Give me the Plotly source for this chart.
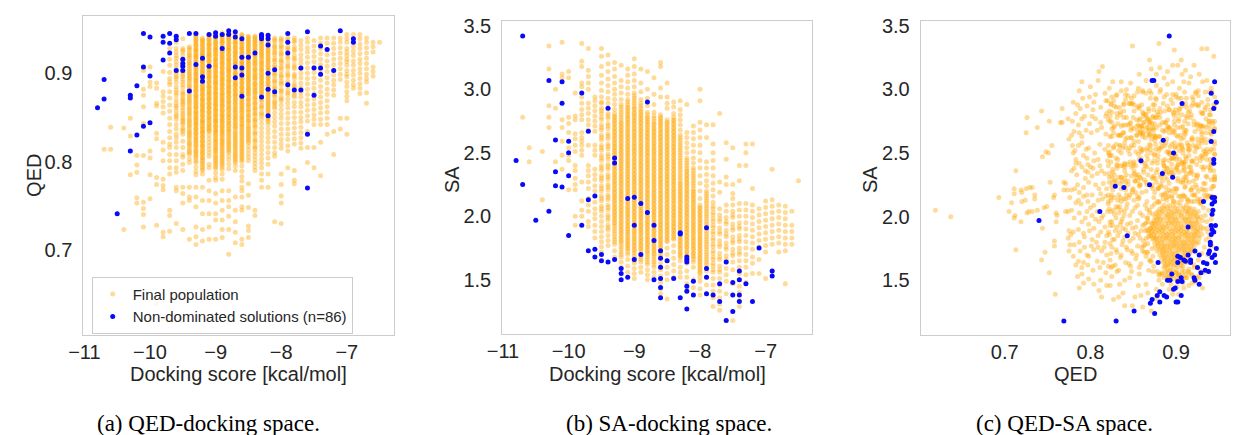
import plotly.graph_objects as go

W, H = 1233, 435

# ---------------- Panel (a): QED vs docking (final population) ----------------
# docking score columns (kcal/mol) and QED values in each column (x 1/1000)
A_DOCK = [-10.7, -10.6, -10.4, -10.3, -10.2, -10.1, -10.0, -9.9, -9.8, -9.7, -9.6, -9.5, -9.4,
          -9.3, -9.2, -9.1, -9.0, -8.9, -8.8, -8.7, -8.6, -8.5, -8.4, -8.3, -8.2, -8.1, -8.0,
          -7.9, -7.8, -7.7, -7.6, -7.5, -7.4, -7.3, -7.2, -7.1, -7.0, -6.9, -6.8, -6.7, -6.6, -6.5]
A_QED = [
    [814],
    [839, 814],
    [838, 723],
    [873, 849, 829, 785],
    [807, 796, 788, 759, 753],
    [907, 903, 882, 875, 862, 843, 807, 754, 747, 740, 726],
    [907, 890, 885, 812, 804, 785, 758],
    [889, 883, 866, 863, 832, 826, 782, 774, 728, 639],
    [902, 879, 874, 868, 862, 855, 822, 813, 801, 780, 773, 768, 720, 715, 621],
    [928, 916, 909, 901, 894, 890, 887, 879, 872, 864, 857, 849, 842, 834, 827, 820, 816, 808, 801, 793, 786, 745, 739, 721],
    [942, 939, 935, 928, 920, 913, 909, 905, 899, 894, 890, 885, 881, 875, 870, 866, 861, 857, 853, 848, 842, 837, 831, 827, 822, 816, 808, 801, 793, 788, 771, 767, 730, 924, 917, 902, 896, 878, 863, 851],
    [939, 928, 924, 916, 913, 911, 905, 901, 898, 893, 890, 887, 879, 875, 872, 868, 864, 861, 853, 850, 846, 842, 838, 834, 831, 823, 816, 808, 805, 797, 790, 771, 764, 753, 723,
     926, 920, 915, 908, 903, 896, 884, 877, 870, 866, 858, 855, 848, 844, 836],
    [930, 926, 921, 917, 912, 908, 903, 899, 895, 891, 886, 882, 878, 873, 869, 865, 860, 856, 852, 847, 843, 839, 834, 830, 826, 821, 817, 812, 808, 803, 799, 771, 760, 756, 712,
     928, 923, 919, 914, 910, 905, 901, 897, 893, 888, 884, 880, 875, 871, 867, 862, 858, 854, 849, 845, 841, 836, 832, 828, 823, 819, 814, 810],
    [943, 940, 938, 935, 933, 931, 928, 926, 924, 921, 919, 917, 914, 912, 909, 907, 905, 902, 900, 898, 895, 893, 891, 888, 886, 883, 881, 879, 876, 874, 872, 869, 867, 864, 862, 860, 857, 855, 853, 850, 848, 845, 843, 841, 838, 836, 833, 831, 828, 825, 822, 819, 816, 812, 808, 804, 799, 794, 789, 785, 771, 760, 749, 726, 715, 706,
     942, 937, 932, 927, 922, 918, 913, 908, 904, 899, 894, 890, 885, 880, 875, 871, 866, 861, 856, 851, 847, 842, 837, 832, 827, 823, 818, 813, 810, 806, 801],
    [940, 937, 935, 932, 930, 927, 925, 922, 920, 918, 915, 913, 911, 908, 906, 903, 901, 899, 896, 894, 892, 889, 887, 884, 882, 880, 877, 875, 872, 870, 868, 865, 863, 860, 858, 856, 853, 851, 848, 846, 844, 841, 839, 836, 834, 832, 829, 827, 824, 822, 819, 817, 814, 811, 808, 805, 802, 798, 794, 790, 786, 771, 756, 741, 723, 710,
     938, 933, 928, 923, 919, 914, 909, 904, 900, 895, 890, 885, 881, 876, 871, 866, 862, 857, 852, 847, 843, 838, 833, 828, 823, 818, 813, 809, 804, 800, 796, 792],
    [944, 942, 939, 937, 934, 932, 930, 927, 925, 922, 920, 918, 915, 913, 910, 908, 906, 903, 901, 898, 896, 894, 891, 889, 886, 884, 882, 879, 877, 874, 872, 870, 867, 865, 862, 860, 857, 855, 852, 849, 846, 843, 840, 837, 834, 830, 826, 822, 818, 814, 810, 806, 797, 793, 779, 767, 756, 741, 726, 712,
     943, 938, 933, 928, 923, 919, 914, 909, 904, 900, 895, 890, 885, 880, 876, 871, 866, 861, 856, 851, 847, 842, 838, 835],
    [946, 944, 941, 939, 936, 934, 932, 929, 927, 925, 922, 920, 917, 915, 913, 910, 908, 906, 903, 901, 898, 896, 894, 891, 889, 887, 884, 882, 879, 877, 875, 872, 870, 867, 865, 863, 860, 858, 856, 853, 851, 848, 846, 844, 841, 839, 836, 834, 832, 829, 826, 823, 820, 817, 814, 811, 808, 804, 800, 796, 792, 787, 782, 779, 764, 753, 741, 734, 712,
     945, 940, 935, 930, 926, 921, 916, 911, 907, 902, 897, 892, 888, 883, 878, 873, 869, 864, 859, 854, 849, 845, 840, 835, 830, 825, 821, 816, 812, 806, 802, 798, 794],
    [946, 943, 941, 938, 936, 934, 931, 929, 926, 924, 922, 919, 917, 914, 912, 910, 907, 905, 902, 900, 898, 895, 893, 890, 888, 886, 883, 881, 878, 876, 874, 871, 869, 866, 864, 862, 859, 857, 854, 852, 850, 847, 845, 842, 840, 837, 835, 832, 829, 826, 823, 820, 816, 812, 808, 804, 800, 796, 791, 786, 780, 767, 756, 745, 734, 723, 714,
     944, 940, 935, 930, 925, 920, 916, 911, 906, 901, 896, 892, 887, 882, 877, 872, 868, 863, 858, 853, 848, 844, 839, 834, 830, 825, 821, 818, 814, 810, 806, 802, 798, 794],
    [946, 944, 941, 939, 937, 934, 932, 929, 927, 925, 922, 920, 917, 915, 913, 910, 908, 905, 903, 901, 898, 896, 893, 891, 889, 886, 884, 881, 879, 877, 874, 872, 869, 867, 864, 861, 858, 855, 852, 849, 846, 843, 840, 837, 834, 830, 826, 822, 818, 814, 810, 806, 802, 797, 792, 767, 756, 749, 738, 723, 695,
     945, 940, 935, 930, 926, 921, 916, 911, 906, 902, 897, 892, 887, 883, 878, 873, 868, 863, 859, 854, 850, 845, 841, 836, 832, 828, 824, 820, 816, 812],
    [945, 942, 940, 937, 935, 933, 930, 928, 925, 923, 921, 918, 916, 913, 911, 909, 906, 904, 901, 899, 897, 894, 892, 889, 887, 885, 882, 880, 877, 875, 873, 870, 868, 865, 862, 859, 856, 853, 850, 847, 844, 841, 838, 835, 831, 827, 823, 819, 815, 811, 807, 803, 799, 795, 790, 760, 745, 732, 720, 708,
     944, 939, 934, 929, 924, 919, 914, 910, 905, 900, 895, 890, 886, 881, 876, 871, 866, 861, 857, 852, 848, 843, 839, 833, 829, 825, 821, 817, 813, 809, 805, 801],
    [944, 941, 939, 936, 934, 931, 929, 927, 924, 922, 919, 917, 914, 912, 910, 907, 905, 902, 900, 897, 895, 893, 890, 888, 885, 883, 880, 878, 876, 873, 871, 868, 866, 863, 861, 858, 855, 852, 849, 846, 843, 840, 836, 832, 828, 824, 820, 816, 812, 808, 804, 800, 795, 789, 783, 778, 771, 767, 760, 749, 745, 712, 706,
     943, 938, 933, 928, 923, 918, 913, 909, 904, 899, 894, 889, 884, 879, 875, 870, 865, 860, 856, 851, 847, 842, 838, 834, 830, 826, 822, 818, 814, 810, 806, 802],
    [942, 939, 937, 934, 932, 929, 927, 924, 922, 919, 917, 914, 912, 909, 907, 904, 902, 899, 897, 894, 892, 889, 887, 884, 882, 879, 877, 874, 871, 868, 865, 862, 859, 856, 853, 850, 847, 844, 841, 837, 833, 829, 825, 821, 817, 813, 809, 805, 801, 775, 762, 748, 727, 722, 714,
     941, 936, 931, 926, 921, 916, 911, 906, 901, 896, 891, 886, 881, 876, 870, 864, 858, 852, 846, 839, 835, 831, 827, 823],
    [942, 939, 937, 934, 932, 929, 927, 924, 921, 919, 916, 913, 911, 908, 905, 903, 900, 897, 895, 892, 889, 887, 884, 881, 879, 876, 873, 870, 867, 864, 861, 858, 855, 852, 848, 845, 842, 838, 834, 830, 826, 822, 818, 814, 810, 806, 802, 798, 794, 790, 745, 739,
     941, 936, 931, 926, 920, 915, 910, 904, 899, 894, 888, 883, 878, 872, 866, 860, 854, 847, 840, 832, 824, 816],
    [942, 939, 936, 934, 931, 928, 925, 922, 920, 917, 914, 911, 908, 905, 903, 900, 897, 894, 891, 888, 885, 882, 879, 876, 872, 868, 864, 860, 856, 852, 848, 843, 838, 833, 828, 823, 818, 813, 808, 803, 798, 793, 786, 779, 771,
     941, 937, 932, 927, 923, 918, 913, 909, 904, 899, 895, 890, 886, 881, 877, 870, 862, 854],
    [942, 939, 936, 933, 930, 927, 924, 921, 918, 915, 912, 909, 906, 903, 900, 897, 894, 891, 888, 885, 882, 879, 875, 871, 867, 863, 859, 855, 851, 847, 842, 837, 832, 827, 822, 816, 810, 804, 797, 786, 771,
     940, 935, 931, 926, 922, 917, 913, 908, 904, 899, 895, 890, 886, 881, 877, 873, 869, 865, 861, 857, 853, 849, 845],
    [940, 936, 932, 928, 925, 921, 917, 913, 909, 905, 901, 897, 893, 889, 885, 881, 877, 873, 869, 865, 860, 855, 850, 845, 840, 834, 828, 822, 816, 810, 806, 732,
     938, 930, 923, 915, 907, 899, 891, 883, 875, 867, 862],
    [940, 936, 932, 928, 924, 920, 916, 912, 908, 903, 899, 895, 891, 887, 882, 878, 873, 869, 864, 859, 854, 849, 843, 837, 831, 825, 820, 815, 786, 774, 761, 753, 730,
     938, 930, 922, 914, 906, 897, 889, 880, 871],
    [940, 935, 930, 926, 921, 916, 911, 906, 901, 896, 891, 886, 881, 876, 871, 866, 861, 855, 849, 843, 837, 831, 825, 818, 812, 793,
     938, 928, 918, 908, 898, 888, 878],
    [940, 935, 930, 925, 920, 915, 910, 905, 899, 894, 889, 884, 878, 873, 867, 862, 856, 850, 844, 838, 832, 826, 820, 790, 779, 775,
     937, 927, 917, 907, 897, 886, 875],
    [937, 932, 927, 921, 916, 911, 905, 900, 895, 889, 884, 878, 873, 867, 862, 856, 850, 845, 839, 833, 827, 821, 815],
    [940, 935, 929, 924, 918, 912, 906, 900, 894, 888, 882, 876, 870, 864, 858, 852, 846, 834, 816, 799],
    [937, 931, 925, 919, 913, 907, 901, 895, 889, 883, 877, 871, 865, 859, 853, 848, 842, 816, 793],
    [940, 934, 928, 922, 916, 910, 904, 898, 892, 885, 879, 873, 867, 861, 855, 848, 842, 822, 784],
    [940, 934, 927, 921, 914, 908, 902, 895, 889, 882, 876, 869, 862, 856, 849, 842, 831],
    [940, 934, 928, 922, 916, 910, 904, 898, 892, 887, 881, 875, 834, 808],
    [940, 935, 929, 923, 917, 911, 905, 899, 893, 849, 837],
    [944, 939, 935, 928, 924, 920, 916, 913, 909, 903, 899, 896, 890, 885, 879, 874, 869, 849, 831],
    [944, 939, 935, 930, 925, 920, 914, 909, 903, 898, 892, 887, 883],
    [944, 939, 933, 928, 922, 916, 911, 905, 900, 894, 888, 883, 877],
    [940, 935, 929, 923, 917, 911, 905, 899, 894, 890, 878, 866],
    [935, 930, 924, 907, 902, 897],
    [935],
]
# non-dominated solutions (docking, QED x 1/1000)
A_ND = [(-10.1, 945), (-10.0, 941), (-9.8, 942), (-9.7, 945), (-9.7, 934), (-9.6, 942), (-9.6, 938),
        (-9.4, 945), (-9.3, 945), (-9.1, 944), (-9.0, 946), (-9.0, 942), (-8.9, 944), (-8.8, 948),
        (-8.8, 944), (-8.7, 947), (-8.7, 941), (-9.7, 923), (-9.8, 915), (-9.5, 916), (-9.6, 903),
        (-9.5, 908), (-9.5, 903), (-9.2, 917), (-9.3, 910), (-9.1, 908), (-8.9, 928), (-9.2, 896),
        (-9.2, 891), (-8.7, 895), (-10.1, 907), (-10.0, 897), (-10.2, 886), (-10.3, 875), (-10.3, 872),
        (-10.7, 893), (-10.7, 871), (-10.8, 861), (-9.4, 880), (-10.0, 844), (-10.1, 840), (-10.2, 830),
        (-10.3, 812), (-10.5, 741), (-8.6, 939), (-8.6, 918), (-8.6, 906), (-8.6, 898), (-8.6, 874),
        (-8.5, 918), (-8.4, 923), (-8.3, 944), (-8.3, 942), (-8.2, 943), (-8.2, 932), (-8.2, 900),
        (-8.2, 882), (-8.2, 852), (-8.1, 904), (-8.1, 879), (-8.3, 873), (-7.9, 945), (-7.9, 935),
        (-7.9, 923), (-7.9, 887), (-7.8, 881), (-7.7, 906), (-7.7, 881), (-7.6, 947), (-7.6, 831),
        (-7.6, 770), (-7.5, 906), (-7.5, 875), (-7.4, 931), (-7.4, 906), (-7.4, 899), (-7.3, 927),
        (-7.2, 903), (-7.1, 948), (-6.9, 939), (-6.9, 935), (-8.3, 939), (-8.2, 939), (-9.8, 935),
        (-9.5, 911), (-8.7, 907)]

# ---------------- Panel (b): SA vs docking (final population) ----------------
B_DOCK = A_DOCK
# SA values per docking column (x 1/100)
B_SA = [
    [278],
    [254, 243],
    [251, 213],
    [334, 316, 287, 278, 270],
    [300, 285, 243],
    [337, 312, 309, 276, 270, 259, 248, 237],
    [314, 309, 278, 273, 266, 254, 248, 244, 221],
    [297, 279, 276, 265, 261, 256, 251, 240, 236, 230, 225, 221, 200, 193],
    [336, 322, 318, 305, 302, 294, 289, 284, 280, 276, 266, 262, 259, 256, 252, 248, 227, 212, 205, 200],
    [332, 315, 310, 305, 300, 289, 285, 281, 276, 272, 268, 256, 240, 236, 232, 227, 222, 214, 209, 204, 196, 192],
    [294, 291, 287, 283, 279, 275, 271, 267, 256, 252, 248, 237, 233, 229, 224, 220, 216, 211, 206, 202, 198, 193, 188, 183],
    [332, 326, 318, 311, 305, 299, 294, 289, 285, 281, 276, 272, 268, 264, 260, 256, 252, 248, 244, 240, 236, 232, 228, 224, 220, 216, 212, 208, 204, 200, 196, 192, 188, 184, 180, 176, 172,
     290, 283, 278, 270, 262, 254, 246, 238, 230, 222, 214, 206],
    [327, 320, 314, 308, 303, 298, 293, 289, 285, 281, 277, 273, 269, 265, 261, 257, 253, 249, 245, 241, 237, 233, 229, 225, 221, 217, 213, 209, 205, 201, 197, 193, 189, 185, 181, 177,
     279, 271, 263, 255, 247, 239, 231, 223, 215, 207, 199, 191],
    [321, 316, 310, 305, 300, 296, 292, 288, 284, 281, 278, 275, 272, 269, 266, 263, 260, 257, 254, 251, 248, 245, 242, 239, 236, 233, 230, 227, 224, 221, 218, 215, 212, 209, 206, 203, 200, 197, 194, 190, 186, 182, 178, 173, 168,
     279, 276, 273, 270, 267, 264, 261, 258, 255, 252, 249, 246, 243, 240, 237, 234, 231, 228, 225, 222, 219, 216, 213, 210, 207, 204, 201, 198, 195, 192, 188, 184, 180],
    [319, 307, 302, 297, 292, 288, 284, 280, 276, 273, 270, 267, 264, 261, 258, 255, 252, 249, 246, 243, 240, 237, 234, 231, 228, 225, 222, 219, 216, 213, 210, 207, 204, 201, 198, 195, 192, 189, 186, 183, 180, 176, 172, 168, 164, 160,
     286, 282, 278, 274, 271, 268, 265, 262, 259, 256, 253, 250, 247, 244, 241, 238, 235, 232, 229, 226, 223, 220, 217, 214, 211, 208, 205, 202, 199, 196, 193, 190, 187, 184, 181, 178, 174, 170],
    [316, 311, 306, 301, 296, 292, 288, 285, 282, 279, 276, 273, 270, 267, 264, 261, 258, 255, 252, 249, 246, 243, 240, 237, 234, 231, 228, 225, 222, 219, 216, 213, 210, 207, 204, 201, 198, 195, 192, 189, 186, 183, 180, 177, 174, 170, 166, 161, 156,
     290, 286, 283, 280, 277, 274, 271, 268, 265, 262, 259, 256, 253, 250, 247, 244, 241, 238, 235, 232, 229, 226, 223, 220, 217, 214, 211, 208, 205, 202, 199, 196, 193, 190, 187, 184, 181, 178, 175, 172],
    [324, 318, 312, 307, 302, 297, 293, 289, 285, 282, 279, 276, 273, 270, 267, 264, 261, 258, 255, 252, 249, 246, 243, 240, 237, 234, 231, 228, 225, 222, 219, 216, 213, 210, 207, 204, 201, 198, 195, 192, 189, 186, 183, 180, 177, 174, 171, 167, 163, 159, 155, 151,
     295, 291, 287, 284, 281, 278, 275, 272, 269, 266, 263, 260, 257, 254, 251, 248, 245, 242, 239, 236, 233, 230, 227, 224, 221, 218, 215, 212, 209, 206, 203, 200, 197, 194, 191, 188, 185, 182, 179, 176, 173, 169, 165],
    [316, 305, 298, 292, 287, 283, 280, 277, 274, 271, 268, 265, 262, 259, 256, 253, 250, 247, 244, 241, 238, 235, 232, 229, 226, 223, 220, 217, 214, 211, 208, 205, 202, 199, 196, 193, 190, 187, 184, 181, 178, 175, 172, 168, 164, 160, 156,
     289, 285, 282, 279, 276, 273, 270, 267, 264, 261, 258, 255, 252, 249, 246, 243, 240, 237, 234, 231, 228, 225, 222, 219, 216, 213, 210, 207, 204, 201, 198, 195, 192, 189, 186, 183, 180, 177, 174, 170, 166],
    [314, 300, 293, 287, 282, 278, 275, 272, 269, 266, 263, 260, 257, 254, 251, 248, 245, 242, 239, 236, 233, 230, 227, 224, 221, 218, 215, 212, 209, 206, 203, 200, 197, 194, 191, 188, 185, 182, 179, 176, 173, 170, 166, 162, 158, 154, 150,
     280, 277, 274, 271, 268, 265, 262, 259, 256, 253, 250, 247, 244, 241, 238, 235, 232, 229, 226, 223, 220, 217, 214, 211, 208, 205, 202, 199, 196, 193, 190, 187, 184, 181, 178, 175, 172, 168, 164],
    [309, 296, 288, 282, 277, 273, 270, 267, 264, 261, 258, 255, 252, 249, 246, 243, 240, 237, 234, 231, 228, 225, 222, 219, 216, 213, 210, 207, 204, 201, 198, 195, 192, 189, 186, 183, 180, 177, 174, 171, 168, 164, 160, 156, 152,
     279, 275, 272, 269, 266, 263, 260, 257, 254, 251, 248, 245, 242, 239, 236, 233, 230, 227, 224, 221, 218, 215, 212, 209, 206, 203, 200, 197, 194, 191, 188, 185, 182, 179, 176, 173, 170, 166, 162],
    [321, 318, 301, 294, 280, 277, 274, 271, 268, 265, 262, 259, 256, 253, 250, 247, 244, 241, 238, 235, 232, 229, 226, 223, 220, 217, 214, 211, 208, 205, 202, 199, 196, 193, 190, 187, 184, 181, 178, 175, 172, 168, 163, 158, 153, 148, 143, 139,
     278, 275, 272, 269, 266, 263, 260, 257, 254, 251, 248, 245, 242, 239, 236, 233, 230, 227, 224, 221, 218, 215, 212, 209, 206, 203, 200, 197, 194, 191, 188, 185, 182, 179, 176, 173, 170],
    [305, 294, 289, 285, 276, 273, 270, 267, 264, 261, 258, 255, 252, 249, 246, 243, 240, 237, 234, 231, 228, 225, 222, 219, 216, 213, 210, 207, 204, 201, 198, 195, 192, 189, 186, 183, 180, 175, 170, 165, 160, 155, 150, 135,
     274, 271, 268, 265, 262, 259, 256, 253, 250, 247, 244, 241, 238, 235, 232, 229, 226, 223, 220, 217, 214, 211, 208, 205, 202, 199, 196, 193, 190, 187, 184, 181],
    [290, 286, 281, 278, 275, 272, 269, 266, 263, 260, 257, 254, 251, 248, 245, 242, 239, 236, 233, 230, 227, 224, 221, 218, 215, 212, 209, 206, 203, 200, 197, 194, 191, 188, 185, 182, 177, 172, 167, 162, 157, 152,
     276, 273, 270, 267, 264, 261, 258, 255, 252, 249, 246, 243, 240, 237, 234, 231, 228, 225, 222, 219, 216, 213, 210, 207, 204, 201, 198, 195, 192, 189, 186, 183],
    [291, 284, 280, 276, 272, 268, 264, 260, 256, 252, 248, 244, 240, 236, 232, 228, 225, 222, 219, 216, 213, 210, 207, 204, 201, 198, 195, 192, 189, 186, 183, 180, 177, 174, 171, 168, 165, 160, 156, 152,
     262, 258, 254, 250, 246, 242, 238, 234, 230, 226, 223, 220, 217, 214, 211, 208, 205, 202, 199, 196, 193, 190, 187, 184, 181, 178, 175, 172, 169],
    [288, 266, 262, 258, 254, 250, 246, 242, 238, 235, 232, 229, 226, 223, 220, 217, 214, 211, 208, 205, 202, 199, 196, 193, 190, 187, 184, 181, 178, 175, 172, 169, 166, 163, 157, 152, 147, 142,
     244, 240, 236, 233, 230, 227, 224, 221, 218, 215, 212, 209, 206, 203, 200, 197, 194, 191, 188, 185, 182, 179, 176, 173, 170, 167],
    [271, 266, 261, 256, 251, 246, 242, 238, 234, 230, 226, 222, 219, 216, 213, 210, 207, 204, 201, 198, 195, 192, 189, 186, 183, 180, 177, 174, 171, 168, 164, 160, 150, 144, 138,
     236, 232, 228, 224, 220, 217, 214, 211, 208, 205, 202, 199, 196, 193, 190, 187, 184, 181, 178, 175, 172, 169, 166],
    [300, 291, 274, 268, 262, 256, 250, 244, 238, 232, 226, 220, 214, 209, 206, 203, 200, 197, 194, 191, 188, 185, 182, 179, 176, 173, 170, 167, 164, 161, 158, 155, 152, 149, 143, 138,
     207, 204, 201, 198, 195, 192, 189, 186, 183, 180, 177, 174, 171, 168, 165, 162, 159, 156],
    [272, 262, 243, 238, 233, 228, 224, 220, 216, 212, 208, 204, 200, 196, 192, 188, 184, 180, 176, 172, 168, 164, 160, 157, 152, 146, 139,
     218, 214, 210, 206, 202, 198, 194, 190, 186, 182, 178, 174, 170, 166, 162],
    [272, 257, 250, 244, 238, 232, 226, 221, 216, 211, 206, 201, 196, 191, 186, 181, 176, 171, 166, 161, 156, 151, 146, 141, 136, 129,
     208, 203, 198, 193, 188, 183, 178, 173, 168, 163, 158],
    [281, 227, 219, 206, 201, 196, 191, 186, 181, 176, 171, 166, 161, 156, 151, 146, 141, 136, 131, 126, 198, 188, 178, 168, 158],
    [258, 245, 231, 225, 209, 204, 199, 194, 189, 184, 179, 174, 169, 164, 159, 154, 149, 139, 118, 196, 186, 176, 166],
    [254, 225, 218, 214, 209, 204, 199, 194, 189, 184, 179, 174, 169, 164, 158, 147, 118, 201, 191, 181, 171],
    [240, 228, 210, 205, 200, 195, 190, 185, 180, 175, 170, 165, 160, 155, 150, 145, 140, 134, 129, 192, 182, 172],
    [257, 250, 240, 210, 205, 200, 195, 190, 185, 180, 175, 170, 165, 160, 154, 148],
    [257, 222, 209, 204, 199, 194, 189, 184, 179, 174, 168, 163, 155],
    [206, 201, 196, 191, 186, 181, 176, 166, 155],
    [212, 207, 202, 197, 192, 187, 182, 177, 172, 151],
    [237, 213, 208, 203, 198, 193, 188, 183, 178, 157],
    [209, 204, 199, 194, 189, 184, 179, 172],
    [208, 203, 198, 193, 188, 183, 178, 173, 147],
    [204, 193, 188, 183, 178],
    [228],
]
# non-dominated solutions (docking, SA x 1/100)
B_ND = [(-10.7, 342), (-10.3, 307), (-10.1, 306), (-10.1, 289), (-9.8, 297), (-9.4, 285), (-9.7, 267),
        (-10.2, 260), (-10.0, 259), (-10.0, 250), (-10.8, 244), (-9.3, 246), (-9.3, 242), (-10.2, 235),
        (-10.0, 232), (-10.7, 225), (-10.2, 224), (-10.1, 223), (-9.7, 213), (-9.6, 216), (-9.1, 214),
        (-9.0, 215), (-8.9, 210), (-10.5, 197), (-10.3, 204), (-10.0, 185), (-9.8, 193), (-8.8, 203),
        (-8.7, 193), (-9.0, 193), (-8.7, 181), (-8.9, 170), (-9.7, 173), (-9.6, 174), (-9.6, 168),
        (-9.5, 170), (-9.5, 165), (-9.4, 164), (-9.3, 166), (-9.2, 159), (-9.2, 155), (-9.2, 150),
        (-9.1, 152), (-8.7, 150), (-8.6, 173), (-8.6, 167), (-8.5, 165), (-8.6, 151), (-8.6, 144),
        (-8.6, 136), (-8.4, 151), (-8.3, 187), (-8.3, 186), (-8.2, 168), (-8.2, 166), (-8.2, 164),
        (-8.3, 136), (-8.2, 145), (-8.2, 141), (-8.2, 127), (-8.1, 149), (-8.1, 138), (-7.9, 191),
        (-7.9, 159), (-7.9, 152), (-7.9, 139), (-7.8, 138), (-7.7, 147), (-7.7, 133), (-7.6, 164),
        (-7.6, 118), (-7.5, 148), (-7.5, 125), (-7.4, 157), (-7.4, 138), (-7.4, 133), (-7.3, 147),
        (-7.2, 133), (-7.1, 175), (-6.9, 157), (-6.9, 153), (-9.0, 166), (-8.8, 290), (-7.5, 138),
        (-8.6, 160), (-7.4, 150)]

# ---------------- Panel (c): SA vs QED (final population) ----------------
# points as (QED x 1/1000, SA x 1/100)
C_LEFT = [(619, 205), (637, 200), (693, 215), (705, 204), (708, 211), (711, 222), (711, 218), (712, 201),
          (711, 199), (713, 236), (713, 174), (719, 221), (720, 219), (720, 212), (724, 213), (725, 222),
          (729, 223), (732, 223), (719, 196), (726, 203), (728, 204), (732, 204), (735, 217), (735, 214),
          (738, 205), (725, 266), (726, 278), (738, 270), (743, 283), (744, 191), (744, 247), (746, 207),
          (749, 208), (752, 275), (753, 227), (751, 250), (752, 156), (743, 166), (747, 172), (758, 177),
          (758, 181), (760, 203), (760, 196), (758, 217), (757, 215), (759, 139), (761, 201), (755, 256),
          (748, 251), (765, 274)]
C_MID = [(767, 285), (767, 274), (774, 277), (775, 261), (778, 264), (781, 267), (779, 256), (782, 252),
         (783, 245), (769, 221), (773, 221), (778, 221), (782, 222), (769, 227), (771, 226), (771, 204),
         (774, 204), (778, 205), (775, 189), (777, 186), (774, 183), (775, 173), (776, 178), (780, 169),
         (783, 162), (787, 299), (791, 293), (800, 302), (799, 294), (806, 296), (809, 307), (810, 314),
         (783, 281), (788, 285), (790, 277), (795, 268), (802, 279), (803, 284), (801, 266), (808, 268),
         (813, 270), (787, 266), (790, 263), (790, 258), (795, 253), (783, 242), (781, 238), (787, 242),
         (796, 246), (797, 241), (794, 236), (800, 239), (804, 244), (809, 245), (794, 230), (802, 232),
         (808, 234), (813, 236), (785, 225), (787, 219), (792, 223), (798, 227), (806, 225), (810, 222),
         (815, 226), (819, 222), (786, 213), (792, 216), (797, 212), (802, 217), (809, 213), (814, 214),
         (821, 212), (796, 204), (802, 201), (808, 204), (813, 199), (820, 204), (790, 196), (798, 194),
         (804, 191), (810, 196), (817, 192), (821, 188), (793, 184), (802, 182), (809, 185), (817, 180),
         (788, 173), (796, 170), (804, 174), (813, 173), (819, 170), (786, 165), (792, 164), (798, 169),
         (808, 165), (815, 164), (821, 161), (785, 153), (790, 155), (798, 151), (804, 147), (812, 150),
         (819, 146), (787, 144), (792, 148), (813, 137), (810, 142), (814, 318), (790, 306), (817, 297),
         (822, 301), (826, 306),
         (780, 290), (785, 288), (796, 287), (804, 290), (812, 286), (818, 291), (822, 283),
         (779, 275), (786, 272), (793, 279), (799, 273), (806, 277), (812, 274), (818, 279),
         (780, 250), (786, 256), (792, 248), (798, 254), (805, 250), (811, 257), (817, 253), (823, 248),
         (778, 236), (784, 233), (790, 239), (797, 235), (803, 238), (811, 240), (817, 234),
         (776, 215), (783, 211), (789, 210), (796, 217), (804, 209), (812, 218), (818, 216),
         (781, 199), (787, 203), (794, 199), (800, 207), (806, 198), (815, 201), (823, 196),
         (780, 188), (786, 190), (792, 187), (799, 189), (807, 180), (812, 188), (819, 185),
         (781, 178), (787, 180), (793, 176), (801, 177), (809, 176), (816, 176), (823, 179),
         (790, 160), (797, 162), (803, 158), (811, 160), (818, 156), (824, 160)]
C_TOP = [(849, 334), (880, 336), (898, 331), (930, 332), (936, 332), (944, 326), (869, 323), (871, 316),
         (881, 317), (906, 323), (902, 319), (896, 319), (911, 315), (921, 319), (927, 312), (857, 312),
         (877, 312), (890, 314), (847, 305), (856, 301), (836, 306), (842, 300), (861, 298), (877, 303),
         (882, 300), (890, 304), (896, 306), (904, 301), (909, 306), (915, 305), (917, 310), (931, 306),
         (936, 307), (941, 301), (923, 298), (907, 312), (886, 309), (865, 307), (831, 296), (871, 297),
         (934, 298), (900, 296), (919, 294),
         (820, 291), (825, 294), (827, 291), (830, 295), (836, 299), (841, 292), (841, 296), (844, 295),
         (848, 293), (851, 295), (855, 298), (861, 299), (865, 297), (869, 299), (870, 293), (877, 292),
         (876, 293), (881, 298), (886, 294), (889, 296), (894, 292), (896, 296), (900, 294), (903, 293),
         (906, 293), (910, 298), (912, 293), (920, 292), (923, 297), (926, 299), (926, 295), (930, 290),
         (937, 292), (939, 298), (942, 298), (945, 294)]
C_BODY = [
    # SA 2.8 - 2.9
    (819, 281), (824, 289), (828, 287), (831, 281), (834, 286), (839, 289), (839, 283), (846, 289),
    (849, 289), (851, 283), (857, 287), (857, 285), (862, 281), (865, 280), (868, 285), (873, 288),
    (878, 282), (879, 280), (885, 289), (890, 287), (892, 284), (896, 289), (899, 284), (904, 284),
    (904, 285), (911, 289), (914, 282), (916, 283), (918, 280), (926, 287), (926, 288), (931, 281),
    (934, 286), (940, 284), (940, 280), (945, 286),
    (825, 282), (824, 288), (830, 286), (835, 282), (835, 280), (839, 288), (845, 289), (848, 289),
    (851, 288), (855, 286), (861, 282), (860, 288), (864, 280), (868, 283), (874, 284), (875, 288),
    (882, 282), (881, 285), (887, 283), (892, 284), (897, 282), (897, 281), (902, 281), (907, 287),
    (907, 280), (912, 286), (918, 287), (920, 289), (923, 288), (929, 282), (931, 281), (934, 284),
    (937, 288), (939, 280), (944, 288),
    # SA 2.7 - 2.8
    (821, 276), (823, 275), (828, 271), (832, 273), (838, 272), (839, 278), (844, 272), (846, 273),
    (848, 270), (854, 276), (857, 276), (862, 274), (866, 277), (867, 270), (873, 279), (875, 273),
    (877, 278), (884, 274), (887, 274), (890, 276), (891, 270), (898, 279), (898, 275), (903, 275),
    (906, 270), (910, 275), (913, 278), (921, 272), (924, 272), (925, 273), (929, 271), (935, 277),
    (938, 272), (939, 275), (943, 273), (945, 275),
    (823, 279), (825, 274), (827, 270), (831, 278), (836, 271), (841, 272), (842, 278), (847, 274),
    (850, 278), (854, 271), (858, 271), (860, 271), (867, 277), (869, 274), (870, 275), (873, 270),
    (881, 272), (881, 278), (888, 274), (890, 271), (892, 270), (898, 272), (903, 277), (902, 270),
    (908, 271), (912, 279), (914, 273), (917, 278), (921, 275), (928, 272), (930, 271), (932, 271),
    (935, 270), (938, 275), (942, 275),
    # SA 2.6 - 2.7
    (818, 265), (825, 269), (827, 266), (833, 264), (836, 264), (839, 266), (843, 262), (848, 262),
    (850, 269), (854, 264), (855, 268), (861, 269), (861, 265), (869, 264), (872, 269), (874, 263),
    (875, 260), (881, 263), (884, 268), (889, 261), (893, 269), (896, 266), (900, 264), (905, 264),
    (909, 262), (910, 268), (912, 268), (918, 261), (919, 260), (926, 269), (930, 267), (930, 265),
    (935, 266), (940, 266), (941, 265), (945, 269),
    (823, 263), (825, 263), (832, 264), (835, 264), (838, 266), (841, 261), (847, 262), (847, 268),
    (854, 264), (858, 267), (858, 265), (862, 266), (868, 264), (869, 268), (876, 262), (876, 263),
    (880, 263), (886, 267), (888, 268), (892, 266), (898, 267), (897, 268), (902, 263), (906, 261),
    (910, 266), (911, 265), (919, 262), (922, 267), (925, 261), (930, 262), (930, 260), (934, 261),
    (940, 269), (940, 260), (945, 269),
    # SA 2.5 - 2.6
    (822, 251), (827, 254), (827, 255), (834, 256), (838, 254), (840, 258), (841, 255), (848, 256),
    (851, 256), (856, 259), (860, 252), (861, 253), (866, 254), (870, 256), (871, 250), (876, 253),
    (880, 254), (883, 258), (887, 256), (891, 251), (892, 250), (899, 254), (899, 255), (907, 254),
    (908, 253), (915, 252), (915, 256), (920, 256), (924, 254), (926, 258), (932, 252), (934, 251),
    (936, 253), (941, 253), (945, 259), (944, 253),
    (821, 256), (821, 250), (830, 257), (833, 252), (835, 256), (836, 250), (844, 252), (846, 254),
    (851, 259), (853, 251), (858, 254), (859, 251), (866, 252), (869, 257), (870, 253), (876, 257),
    (880, 252), (882, 254), (884, 255), (888, 258), (895, 257), (893, 250), (898, 250), (903, 256),
    (907, 256), (908, 250), (914, 256), (916, 253), (922, 251), (923, 255), (927, 255), (930, 258),
    (935, 258), (939, 251), (945, 257),
    # SA 2.4 - 2.5
    (820, 244), (822, 248), (825, 248), (831, 241), (832, 245), (840, 242), (838, 240), (846, 249),
    (850, 242), (850, 240), (856, 249), (859, 246), (864, 242), (866, 248), (872, 242), (875, 249),
    (878, 242), (879, 245), (885, 244), (886, 240), (892, 249), (895, 241), (900, 247), (903, 241),
    (904, 245), (909, 243), (912, 246), (918, 244), (919, 243), (924, 246), (929, 247), (930, 248),
    (935, 249), (941, 242), (940, 245), (945, 249),
    (821, 240), (824, 243), (830, 246), (831, 240), (835, 240), (840, 241), (844, 241), (846, 243),
    (851, 243), (853, 240), (857, 245), (860, 243), (864, 240), (867, 245), (874, 244), (875, 248),
    (879, 248), (885, 242), (886, 240), (892, 244), (895, 246), (897, 246), (900, 245), (907, 242),
    (909, 241), (911, 243), (915, 248), (920, 244), (924, 241), (928, 244), (931, 246), (934, 249),
    (936, 245), (941, 241), (945, 249),
    # SA 2.3 - 2.4
    (822, 234), (825, 231), (826, 235), (833, 231), (836, 231), (840, 236), (840, 230), (848, 239),
    (851, 234), (853, 233), (856, 233), (859, 230), (862, 235), (871, 237), (874, 232), (878, 237),
    (876, 230), (882, 233), (886, 236), (888, 235), (895, 237), (895, 235), (901, 239), (903, 235),
    (909, 239), (912, 231), (915, 239), (917, 235), (921, 233), (924, 230), (930, 239), (935, 232),
    (936, 231), (940, 238), (944, 236), (945, 231),
    (822, 231), (826, 237), (828, 233), (831, 238), (836, 231), (840, 239), (842, 233), (848, 232),
    (851, 236), (854, 231), (858, 231), (862, 237), (866, 239), (867, 233), (872, 231), (873, 230),
    (877, 235), (882, 231), (887, 231), (889, 238), (892, 235), (897, 234), (900, 238), (902, 230),
    (910, 237), (912, 234), (916, 234), (918, 236), (925, 232), (925, 233), (932, 237), (933, 239),
    (938, 239), (940, 236), (945, 232),
    # SA 2.2 - 2.3
    (822, 227), (825, 224), (828, 229), (830, 225), (835, 226), (841, 227), (840, 223), (844, 225),
    (849, 221), (852, 228), (855, 228), (858, 225), (865, 227), (866, 225), (873, 222), (877, 227),
    (879, 222), (883, 224), (884, 228), (890, 229), (892, 221), (898, 222), (901, 222), (906, 227),
    (908, 229), (910, 223), (912, 228), (918, 221), (920, 228), (924, 223), (926, 220), (932, 221),
    (935, 221), (941, 229), (944, 224), (945, 229),
    (826, 227), (826, 221), (830, 228), (836, 222), (837, 228), (841, 221), (844, 228), (850, 222),
    (852, 228), (857, 224), (858, 225), (863, 229), (865, 220), (871, 224), (872, 225), (879, 222),
    (880, 223), (882, 225), (888, 223), (892, 226), (894, 220), (900, 222), (902, 228), (908, 227),
    (911, 224), (915, 227), (917, 221), (919, 223), (923, 225), (930, 222), (932, 226), (934, 226),
    (941, 222), (943, 224), (945, 229),
    # SA 2.1 - 2.2
    (821, 217), (825, 217), (824, 215), (833, 217), (836, 212), (839, 214), (842, 217), (843, 210),
    (849, 219), (851, 213), (855, 216), (860, 219), (875, 219), (874, 215), (883, 217), (885, 214),
    (889, 219), (891, 216), (895, 216), (899, 219), (903, 216), (908, 217), (910, 216), (914, 212),
    (919, 217), (922, 217), (926, 212), (928, 214), (929, 210), (936, 217), (939, 216), (942, 216),
    (944, 213),
    (821, 210), (824, 213), (828, 215), (832, 213), (835, 215), (841, 214), (846, 217), (845, 215),
    (853, 219), (856, 214), (857, 215), (878, 212), (880, 211), (885, 217), (887, 218), (889, 215),
    (897, 212), (895, 215), (902, 211), (905, 216), (909, 216), (913, 214), (918, 212), (921, 217),
    (925, 214), (929, 212), (933, 217), (934, 214), (938, 216), (941, 216), (944, 213),
    # denser patches
    (856, 272), (859, 266), (862, 279), (864, 262), (866, 270), (868, 276), (870, 265), (872, 273),
    (874, 268), (876, 278), (858, 277), (861, 263), (863, 274), (867, 267), (871, 261), (873, 278),
    (877, 270), (860, 271), (869, 273), (875, 264),
    (887, 245), (890, 238), (893, 255), (896, 232), (899, 249), (902, 241), (905, 257), (908, 236),
    (911, 247), (914, 253), (917, 239), (889, 251), (892, 234), (895, 246), (898, 258), (901, 237),
    (904, 252), (907, 243), (910, 231), (913, 258),
    # SA 1.6 - 2.1, QED < 0.875
    (822, 206), (828, 202), (834, 208), (840, 204), (846, 201), (852, 207), (858, 203), (864, 209),
    (869, 205), (825, 196), (831, 192), (837, 198), (843, 194), (849, 191), (855, 197), (861, 193),
    (867, 199), (872, 195), (822, 186), (828, 182), (834, 188), (840, 184), (846, 181), (852, 187),
    (858, 183), (864, 189), (870, 185), (825, 176), (831, 172), (837, 178), (843, 174), (849, 171),
    (855, 177), (861, 173), (867, 179), (872, 175), (823, 166), (829, 162), (835, 168), (841, 164),
    (847, 161), (853, 167), (859, 163), (865, 169), (871, 165), (827, 205), (830, 199), (833, 203),
    (836, 196), (839, 201), (826, 193), (832, 207), (838, 191),
    (824, 204), (830, 208), (836, 205), (842, 207), (849, 204), (855, 209), (861, 201), (866, 206),
    (873, 202), (823, 193), (829, 189), (835, 194), (841, 190), (847, 195), (853, 192), (859, 189),
    (865, 195), (870, 191), (826, 182), (832, 185), (838, 181), (844, 187), (850, 183), (856, 186),
    (862, 181), (868, 187), (874, 183), (824, 171), (830, 174), (836, 170), (842, 176), (848, 173),
    (854, 170), (860, 176), (866, 172), (873, 169), (826, 161), (833, 158), (845, 163), (857, 160),
    (868, 158), (866, 190), (868, 184), (864, 178), (867, 196), (863, 172), (869, 166),
    (938, 205), (941, 198), (936, 191), (939, 184), (942, 177), (937, 170),
    # halo around the dense cluster
    (866, 212), (872, 208), (869, 203), (866, 199), (863, 194), (868, 189), (865, 183), (862, 177),
    (867, 172), (870, 165), (874, 161), (878, 157), (883, 155), (893, 153), (903, 155), (910, 157),
    (915, 159), (921, 162), (926, 166), (930, 171), (933, 176), (935, 182), (937, 188), (936, 196),
    (934, 201), (932, 207), (928, 211), (921, 212), (914, 213), (906, 213), (897, 212), (889, 213),
    (880, 212), (875, 210),
    # SA 1.2 - 1.6
    (825, 153), (834, 147), (840, 150), (848, 157), (856, 146), (827, 135), (838, 140), (859, 138),
    (865, 147), (873, 157), (881, 155), (888, 157), (861, 129), (840, 130), (871, 126), (896, 139),
    (909, 144), (919, 148), (927, 152), (931, 144), (902, 150), (913, 152), (884, 147), (892, 143),
    (877, 143), (867, 140), (852, 137), (846, 152), (857, 155), (831, 157), (823, 146), (833, 137),
    (849, 130), (886, 160), (893, 158), (900, 156), (907, 159), (914, 157), (921, 160), (928, 158),
    (890, 153), (897, 151), (904, 154), (911, 152), (918, 155), (925, 153), (932, 156), (894, 147),
    (901, 145), (908, 148), (915, 146), (922, 149), (880, 150), (877, 136), (903, 139),
]
# dense cluster around QED ~0.90, SA ~1.85: rows of (SA x 1/100, [QED x 1/1000, ...])
C_CLUSTER = [
    (209, [886, 892, 897, 905, 912]),
    (207, [884, 890, 899, 910, 916]),
    (206, [881, 887, 894, 902, 908, 915, 921]),
    (204, [879, 884, 892, 898, 903, 911, 914, 920, 926]),
    (203, [877, 883, 889, 895, 900, 906, 913, 918, 923]),
    (201, [879, 890, 895, 906, 917, 923]),
    (200, [876, 881, 887, 892, 898, 903, 909, 914, 920, 925, 929]),
    (198, [877, 882, 893, 899, 910, 915, 926]),
    (197, [874, 879, 885, 890, 896, 901, 907, 912, 918, 923, 931]),
    (195, [875, 880, 891, 896, 902, 913, 918, 924]),
    (194, [872, 877, 883, 888, 894, 899, 905, 910, 916, 921, 927]),
    (192, [873, 878, 884, 889, 900, 906, 917, 922, 929]),
    (191, [870, 875, 881, 886, 892, 897, 903, 908, 914, 919, 925, 932]),
    (189, [873, 879, 884, 895, 901, 906, 912, 923, 928]),
    (188, [871, 876, 881, 887, 892, 898, 903, 909, 914, 920, 925]),
    (186, [874, 885, 890, 896, 907, 912, 918, 923, 930]),
    (185, [871, 877, 882, 888, 893, 899, 904, 910, 915, 921, 926]),
    (183, [876, 881, 887, 892, 898, 903, 914, 920, 927]),
    (182, [873, 878, 884, 889, 895, 900, 906, 911, 917, 922]),
    (180, [878, 883, 894, 899, 905, 910, 916, 921, 926]),
    (179, [875, 880, 886, 891, 897, 902, 908, 913, 919, 924]),
    (177, [879, 885, 890, 896, 901, 907, 912, 918]),
    (176, [876, 882, 887, 893, 898, 904, 909, 915, 921]),
    (174, [881, 886, 892, 903, 909, 914, 919]),
    (173, [878, 884, 889, 895, 900, 906, 911, 917]),
    (171, [884, 889, 895, 900, 911, 916]),
    (170, [881, 886, 892, 897, 903, 908, 914]),
    (168, [886, 891, 897, 902, 908, 913]),
    (167, [883, 888, 894, 899, 905, 910]),
    (165, [887, 893, 898, 904, 909]),
    (164, [885, 890, 895, 901, 906, 912]),
    (162, [889, 894, 900, 906]),
    (161, [887, 891, 897, 902, 908]),
    (158, [890, 896, 901]),
    (156, [884, 892, 899, 907, 915]),
    (154, [880, 888, 896, 903, 911, 919]),
    (152, [886, 893, 901, 909]),
]
# non-dominated solutions (QED x 1/1000, SA x 1/100)
C_ND = [(892, 342), (872, 307), (874, 307), (945, 306), (941, 297), (947, 290), (944, 285), (907, 289),
        (944, 267), (941, 259), (885, 260), (897, 250), (944, 245), (944, 242), (884, 234), (896, 231),
        (859, 244), (829, 224), (839, 223), (869, 225), (942, 215), (945, 215), (932, 212), (942, 210),
        (942, 202), (941, 193), (946, 193), (942, 190), (941, 186), (914, 192), (843, 185), (940, 180),
        (939, 173), (947, 175), (922, 173), (927, 170), (902, 169), (909, 166), (914, 170), (917, 166),
        (917, 164), (902, 164), (942, 168), (946, 164), (879, 164), (932, 164), (934, 158), (938, 157),
        (929, 156), (895, 155), (906, 152), (902, 149), (907, 149), (921, 152), (922, 150), (927, 147),
        (890, 150), (893, 150), (899, 144), (897, 143), (881, 141), (878, 138), (886, 138), (906, 138),
        (872, 135), (881, 133), (900, 133), (902, 133), (851, 126), (875, 124), (830, 118), (740, 197),
        (811, 204), (769, 118), (943, 205), (945, 212), (940, 178), (944, 188), (938, 171), (945, 170),
        (911, 165), (905, 168), (925, 160), (936, 163), (889, 137), (870, 132)]

# ---------------- build traces ----------------
ORANGE = "rgba(255,165,0,0.4)"
BLUE = "rgb(10,10,250)"

ax, ay = [], []
for d, col in zip(A_DOCK, A_QED):
    for v in col:
        ax.append(d)
        ay.append(v / 1000)
bx, by = [], []
for d, col in zip(B_DOCK, B_SA):
    for v in col:
        bx.append(d)
        by.append(v / 100)
c_pts = C_LEFT + C_MID + C_TOP + C_BODY
for s, qs in C_CLUSTER:
    for q in qs:
        c_pts.append((q, s))
cx = [q / 1000 for q, s in c_pts]
cy = [s / 100 for q, s in c_pts]

fig = go.Figure()
mk_o = dict(color=ORANGE, size=5, line=dict(width=0))
mk_b = dict(color=BLUE, size=5, line=dict(width=0))

fig.add_trace(go.Scatter(x=ax, y=ay, mode="markers", marker=mk_o, name="Final population",
                         xaxis="x", yaxis="y", hoverinfo="skip"))
fig.add_trace(go.Scatter(x=[d for d, q in A_ND], y=[q / 1000 for d, q in A_ND], mode="markers",
                         marker=mk_b, name="Non-dominated solutions (n=86)", xaxis="x", yaxis="y"))
fig.add_trace(go.Scatter(x=bx, y=by, mode="markers", marker=mk_o, showlegend=False,
                         xaxis="x2", yaxis="y2", hoverinfo="skip"))
fig.add_trace(go.Scatter(x=[d for d, s in B_ND], y=[s / 100 for d, s in B_ND], mode="markers",
                         marker=mk_b, showlegend=False, xaxis="x2", yaxis="y2"))
fig.add_trace(go.Scatter(x=cx, y=cy, mode="markers", marker=mk_o, showlegend=False,
                         xaxis="x3", yaxis="y3", hoverinfo="skip"))
fig.add_trace(go.Scatter(x=[q / 1000 for q, s in C_ND], y=[s / 100 for q, s in C_ND], mode="markers",
                         marker=mk_b, showlegend=False, xaxis="x3", yaxis="y3"))

TXT = "#262626"
common = dict(showgrid=False, zeroline=False, showline=True, linecolor="#cccccc", linewidth=1.2,
              mirror=True, ticks="", tickfont=dict(size=20, color=TXT, family="Liberation Sans, Arial"))

def px(x):
    return x / W

def py(y):
    return 1 - y / H

fig.update_layout(
    width=W, height=H, margin=dict(l=0, r=0, t=0, b=0),
    paper_bgcolor="white", plot_bgcolor="white",
    font=dict(family="Liberation Sans, Arial", color=TXT),
    xaxis=dict(domain=[px(68.3), px(382.7)], range=[-11.015, -6.285], tickvals=[-11, -10, -9, -8, -7],
               anchor="y", ticklabelstandoff=-1, **common),
    yaxis=dict(domain=[py(333.3), py(10)], range=[0.604, 0.965], tickvals=[0.7, 0.8, 0.9],
               tickformat=".1f", anchor="x", ticklabelstandoff=6, **common),
    xaxis2=dict(domain=[px(492.7), px(806.7)], range=[-11.01, -6.29], tickvals=[-11, -10, -9, -8, -7],
                anchor="y2", ticklabelstandoff=-1, **common),
    yaxis2=dict(domain=[py(332.7), py(15)], range=[1.073, 3.539], tickvals=[1.5, 2.0, 2.5, 3.0, 3.5],
                tickformat=".1f", anchor="x2", ticklabelstandoff=6, **common),
    xaxis3=dict(domain=[px(916.7), px(1230)], range=[0.602, 0.963], tickvals=[0.7, 0.8, 0.9],
                tickformat=".1f", anchor="y3", ticklabelstandoff=-1, **common),
    yaxis3=dict(domain=[py(333.3), py(15)], range=[1.073, 3.539], tickvals=[1.5, 2.0, 2.5, 3.0, 3.5],
                tickformat=".1f", anchor="x3", ticklabelstandoff=6, **common),
    legend=dict(x=px(76.7), y=py(274.5), xanchor="left", yanchor="top",
                bgcolor="rgba(255,255,255,0.8)", bordercolor="#cccccc", borderwidth=1,
                font=dict(size=15, color=TXT, family="Liberation Sans, Arial"),
                itemsizing="trace", tracegroupgap=0),
)

ann = []
def label(text, x, y, size=20, angle=0, family="Liberation Sans, Arial", color=TXT):
    ann.append(dict(text=text, x=px(x), y=py(y), xref="paper", yref="paper", showarrow=False,
                    xanchor="center", yanchor="middle", textangle=angle,
                    font=dict(size=size, family=family, color=color)))

label("QED", 17.5, 172, angle=-90)
label("Docking score [kcal/mol]", 225.5, 373)
label("SA", 442.5, 175.7, angle=-90)
label("Docking score [kcal/mol]", 649.7, 373)
label("SA", 866, 175.7, angle=-90)
label("QED", 1073.4, 373)
label("(a) QED-docking space.", 195, 423, size=23, family="Liberation Serif, Times New Roman", color="black")
label("(b) SA-docking space.", 662, 423, size=23, family="Liberation Serif, Times New Roman", color="black")
label("(c) QED-SA space.", 1062, 423, size=23, family="Liberation Serif, Times New Roman", color="black")
fig.update_layout(annotations=ann)

fig.write_html("out.html")
